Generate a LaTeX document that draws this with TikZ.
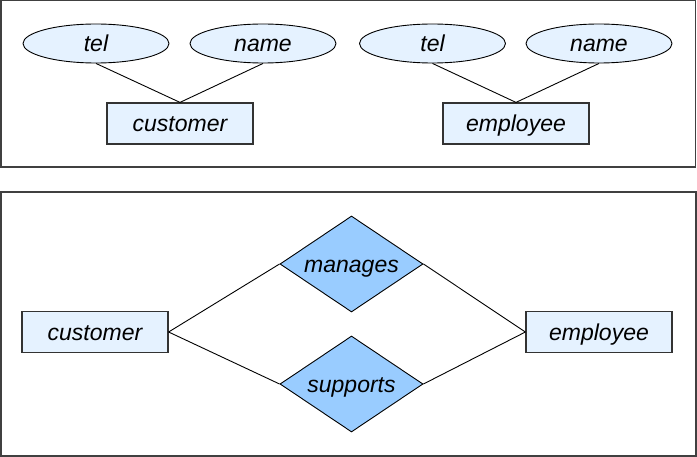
\documentclass[tikz,border=0pt]{standalone}
\usepackage{fontspec}
\setmainfont{Liberation Sans}
\usetikzlibrary{shapes.geometric}
\definecolor{attrblue}{rgb}{0.90, 0.95, 1.0}
\definecolor{relblue}{rgb}{0.60, 0.80, 1.0}
\definecolor{framegray}{rgb}{0.25, 0.25, 0.25}
\definecolor{edgegray}{rgb}{0.2, 0.2, 0.2}
\tikzset{
  label text/.style={text height=18pt, text depth=1pt},
  entity/.style={label text, draw=edgegray, line width=1.2pt, fill=attrblue, rectangle,
    minimum width=146pt, minimum height=41pt, inner sep=0pt},
  attr/.style={label text, draw=black, line width=0.9pt, fill=attrblue, ellipse,
    minimum width=146pt, minimum height=39pt, inner sep=0pt},
  relation/.style={label text, draw=black, line width=0.9pt, fill=relblue, diamond,
    shape aspect=1.5, minimum width=143pt, minimum height=96pt, inner sep=0pt},
  link/.style={draw=black, line width=0.9pt},
  panel/.style={draw=framegray, line width=1.5pt}
}

\begin{document}
\begin{tikzpicture}[x=1pt,y=-1pt,font=\fontsize{23}{27}\selectfont\itshape]
  \useasboundingbox (0,0) rectangle (697,457);

  \draw [panel] (0.75,0.75) rectangle (695.5,167);
  \draw [panel] (0.75,192) rectangle (696,456);

  % top panel: entities with attributes
  \node [attr] (tel1) at (96,43.5) {tel};
  \node [attr] (name1) at (263,43.5) {name};
  \node [entity] (cust1) at (180,123.5) {customer};
  \node [attr] (tel2) at (432.5,43.5) {tel};
  \node [attr] (name2) at (599,43.5) {name};
  \node [entity] (emp1) at (516,123.5) {employee};

  \foreach \a/\e in {tel1/cust1, name1/cust1, tel2/emp1, name2/emp1}
  {
    \draw [link] (\a.south) -- (\e.north);
  }

  % bottom panel: relationships
  \node [entity] (cust2) at (95,332) {customer};
  \node [entity] (emp2) at (599,332) {employee};
  \node [relation] (manages) at (351.5,264) {manages};
  \node [relation] (supports) at (351.5,384) {supports};

  \foreach \r in {manages, supports}
  {
    \draw [link] (cust2.east) -- (\r.west);
    \draw [link] (\r.east) -- (emp2.west);
  }

\end{tikzpicture}
\end{document}
